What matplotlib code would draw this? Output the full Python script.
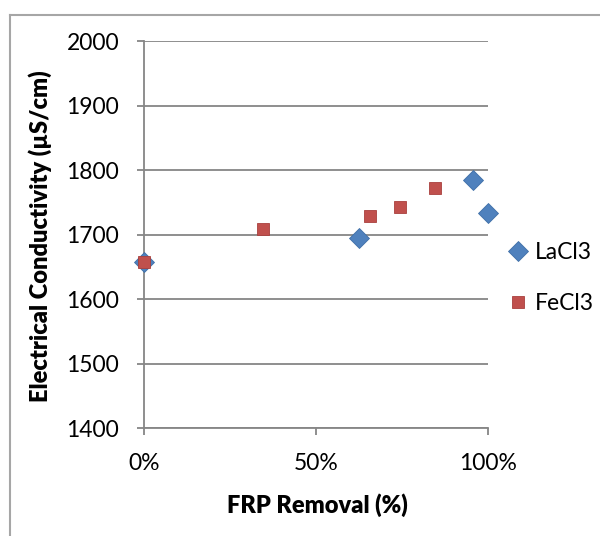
import numpy as np
import matplotlib
matplotlib.use('Agg')
import matplotlib.pyplot as plt
from matplotlib.lines import Line2D

# FRP removal fraction vs electrical conductivity (uS/cm)
la_x = [0.0, 0.625, 0.956, 1.0]
la_y = [1657, 1695, 1785, 1734]
fe_x = [0.0, 0.346, 0.657, 0.744, 0.846]
fe_y = [1658, 1709, 1728, 1743, 1772]
yticks = [1400, 1500, 1600, 1700, 1800, 1900, 2000]
xticks = [0.0, 0.5, 1.0]
xticklabels = ['0%', '50%', '100%']

BLUE = '#4F81BD'
RED = '#C0504D'
GRID = '#868686'

plt.rcParams['font.family'] = ['Lato', 'DejaVu Sans']

fig = plt.figure(figsize=(6.0, 5.36), dpi=100)
ax = fig.add_axes([144 / 600, 1 - 428 / 536, 344 / 600, 387 / 536])

ax.plot(la_x, la_y, ls='none', marker='D', ms=10.5, color=BLUE,
        mec='#3f6fa8', mew=0.6, label='LaCl3', clip_on=False, zorder=3)
ax.plot(fe_x, fe_y, ls='none', marker='s', ms=8.5, color=RED,
        mec='#a9403d', mew=0.6, label='FeCl3', clip_on=False, zorder=4)

ax.set_xlim(0, 1)
ax.set_ylim(1400, 2000)
ax.set_xticks(xticks)
ax.set_xticklabels(xticklabels)
ax.set_yticks(yticks)
ax.yaxis.grid(True, color=GRID, lw=1.3)
ax.set_axisbelow(True)
for s in ['top', 'right']:
    ax.spines[s].set_visible(False)
for s in ['left', 'bottom']:
    ax.spines[s].set_color(GRID)
    ax.spines[s].set_linewidth(1.3)
ax.tick_params(axis='both', colors=GRID, labelcolor='black', labelsize=16.5,
               length=5, width=1.3, direction='out')
ax.tick_params(axis='y', pad=13)
ax.tick_params(axis='x', pad=13)

ax.set_xlabel('FRP Removal (%)', fontsize=17, fontweight='heavy')
ax.set_ylabel('Electrical Conductivity (\u00b5S/cm)', fontsize=17,
              fontweight='heavy')
ax.xaxis.set_label_coords((317 - 144) / 344, -(493 - 428) / 387)
ax.yaxis.set_label_coords(-(144 - 52) / 344, (428 - 236) / 387)

fig.legend(loc='center left', bbox_to_anchor=(484 / 600, 1 - 278 / 536),
           frameon=False, fontsize=16.5, handletextpad=0.1,
           labelspacing=1.3, handlelength=1.2)

# outer chart frame
fig.add_artist(Line2D([10 / 600, 1.0], [1 - 15 / 536] * 2, color='#a6a6a6',
                      lw=1.5, transform=fig.transFigure))
fig.add_artist(Line2D([10 / 600] * 2, [0.0, 1 - 15 / 536], color='#a6a6a6',
                      lw=1.5, transform=fig.transFigure))

fig.savefig('out.png', dpi=100)
